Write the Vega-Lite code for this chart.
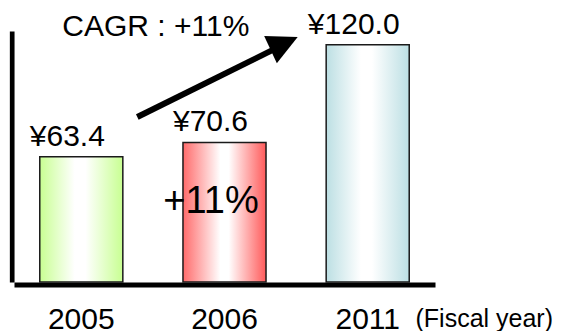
{
  "$schema": "https://vega.github.io/schema/vega-lite/v6.json",
  "autosize": "none",
  "padding": {"left": 14, "top": 31, "right": 126, "bottom": 49},
  "width": 421,
  "height": 251,
  "background": "white",
  "config": {
    "view": {"stroke": null},
    "font": "Liberation Sans",
    "locale": {"number": {"decimal": ".", "thousands": ",", "grouping": [3], "currency": ["¥", ""]}}
  },
  "data": {"values": [
    {"year": "2005", "value": 63.4},
    {"year": "2006", "value": 70.6},
    {"year": "2011", "value": 120.0}
  ]},
  "layer": [
    {
      "mark": {"type": "bar", "stroke": "#1a1a1a", "strokeWidth": 1.5},
      "encoding": {
        "x": {
          "field": "year", "type": "nominal", "sort": ["2005", "2006", "2011"],
          "scale": {"paddingInner": 0.42, "paddingOuter": 0.18},
          "axis": {
            "domain": true, "domainColor": "black", "domainWidth": 5, "offset": 2.5,
            "ticks": false, "tickSize": 0, "grid": false,
            "labelAngle": 0, "labelFont": "Liberation Sans", "labelFontSize": 30, "labelColor": "black", "labelPadding": 19.5,
            "title": "(Fiscal year)", "titleFont": "Liberation Sans", "titleFontSize": 25, "titleFontWeight": "normal", "titleColor": "black",
            "titleX": 401, "titleY": 41.5, "titleAlign": "left", "titleBaseline": "alphabetic",
            "encode": {"labels": {"update": {"dx": {"signal": "datum.value === '2006' ? -9 : -2"}}}}
          }
        },
        "y": {
          "field": "value", "type": "quantitative",
          "scale": {"domain": [0, 127], "nice": false, "zero": true},
          "axis": {"domain": true, "domainColor": "black", "domainWidth": 4.7, "offset": 2.3, "ticks": false, "tickSize": 0, "labels": false, "grid": false, "title": null}
        },
        "fill": {
          "condition": [
            {"test": "datum.year === '2005'", "value": {"gradient": "linear", "x1": 0, "y1": 0, "x2": 1, "y2": 0, "stops": [{"offset": 0, "color": "#c8ff92"}, {"offset": 0.42, "color": "#ffffff"}, {"offset": 0.55, "color": "#ffffff"}, {"offset": 1, "color": "#c8ff92"}]}},
            {"test": "datum.year === '2006'", "value": {"gradient": "linear", "x1": 0, "y1": 0, "x2": 1, "y2": 0, "stops": [{"offset": 0, "color": "#ff6b6b"}, {"offset": 0.45, "color": "#ffffff"}, {"offset": 0.55, "color": "#ffffff"}, {"offset": 1, "color": "#ff5a5a"}]}}
          ],
          "value": {"gradient": "linear", "x1": 0, "y1": 0, "x2": 1, "y2": 0, "stops": [{"offset": 0, "color": "#bcdfe3"}, {"offset": 0.42, "color": "#ffffff"}, {"offset": 0.55, "color": "#ffffff"}, {"offset": 1, "color": "#bcdfe3"}]}
        }
      }
    },
    {
      "mark": {"type": "text", "font": "Liberation Sans", "fontSize": 30, "color": "black", "align": "center", "baseline": "alphabetic", "dx": -14, "dy": -11},
      "encoding": {
        "x": {"field": "year", "type": "nominal", "sort": ["2005", "2006", "2011"]},
        "y": {"field": "value", "type": "quantitative"},
        "text": {"field": "value", "type": "quantitative", "format": "$.1f"}
      }
    },
    {
      "transform": [{"filter": "datum.year === '2005'"}],
      "mark": {"type": "rule", "color": "black", "strokeWidth": 6, "strokeCap": "butt", "xOffset": 56, "x2Offset": 191},
      "encoding": {
        "x": {"field": "year", "type": "nominal", "sort": ["2005", "2006", "2011"]},
        "x2": {"field": "year"},
        "y": {"datum": 83.5, "type": "quantitative"},
        "y2": {"datum": 117.3}
      }
    },
    {
      "transform": [{"filter": "datum.year === '2011'"}],
      "mark": {"type": "point", "shape": "M 0 0 L -2 -1 L -2 1 Z", "size": 900, "angle": 335, "filled": true, "color": "black", "opacity": 1, "strokeWidth": 0, "xOffset": -70},
      "encoding": {
        "x": {"field": "year", "type": "nominal", "sort": ["2005", "2006", "2011"]},
        "y": {"datum": 124, "type": "quantitative"}
      }
    },
    {
      "transform": [{"filter": "datum.year === '2005'"}],
      "mark": {"type": "text", "text": "CAGR : +11%", "font": "Liberation Sans", "fontSize": 30, "color": "black", "align": "left", "baseline": "alphabetic", "dx": -19},
      "encoding": {
        "x": {"field": "year", "type": "nominal", "sort": ["2005", "2006", "2011"]},
        "y": {"datum": 124.4, "type": "quantitative"}
      }
    },
    {
      "transform": [{"filter": "datum.year === '2006'"}],
      "mark": {"type": "text", "text": "+11%", "font": "Liberation Sans", "fontSize": 38, "color": "black", "align": "center", "baseline": "alphabetic", "dx": -13.5},
      "encoding": {
        "x": {"field": "year", "type": "nominal", "sort": ["2005", "2006", "2011"]},
        "y": {"datum": 34.9, "type": "quantitative"}
      }
    }
  ]
}
